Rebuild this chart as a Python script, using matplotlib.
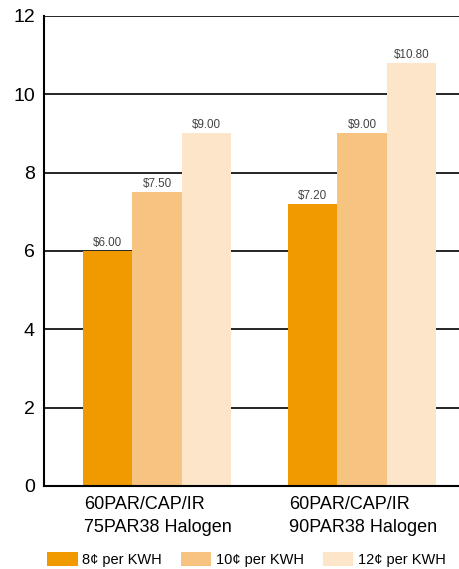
import numpy as np
import matplotlib.pyplot as plt
from matplotlib.patches import Patch

plt.rcParams['font.family'] = ['Liberation Sans', 'DejaVu Sans']

# lamp comparisons on the x axis
lamps = ["60PAR/CAP/IR\n75PAR38 Halogen", "60PAR/CAP/IR\n90PAR38 Halogen"]
rates = ["8¢ per KWH", "10¢ per KWH", "12¢ per KWH"]
# yearly savings per rate, one list per rate
savings_8c = [6.00, 7.20]
savings_10c = [7.50, 9.00]
savings_12c = [9.00, 10.80]
y_ticks = [0, 2, 4, 6, 8, 10, 12]

colors = ["#F09A00", "#F6C380", "#FCE5C8"]


def plot_savings():
    fig = plt.figure(figsize=(4.59, 5.69), dpi=100)
    ax = fig.add_axes([0.0959, 0.1459, 0.9041, 0.826])

    x = np.arange(len(lamps))
    width = 0.24
    series = [savings_8c, savings_10c, savings_12c]

    # gridlines behind the bars
    ax.set_axisbelow(True)
    ax.yaxis.grid(True, color="black", linewidth=1.2)

    for i, values in enumerate(series):
        pos = x + (i - 1) * width
        bars = ax.bar(pos, values, width, color=colors[i], label=rates[i], zorder=2)
        for b, v in zip(bars, values):
            ax.text(b.get_x() + b.get_width() / 2, v + 0.13, f"${v:.2f}",
                    ha="center", va="baseline", fontsize=8.4, color="#444444", zorder=3)

    ax.set_xlim(-0.551, 1.473)
    ax.set_ylim(0, 12)
    ax.set_yticks(y_ticks)
    ax.set_yticklabels([str(t) for t in y_ticks], fontsize=14)
    ax.tick_params(axis="y", length=0, pad=6.5)

    ax.set_xticks(x - 1.5 * width + 0.005)
    ax.set_xticklabels(lamps, ha="left", fontsize=13, linespacing=1.45)
    ax.tick_params(axis="x", length=0, pad=7.5)

    for side in ["top", "right"]:
        ax.spines[side].set_visible(False)
    for side in ["left", "bottom"]:
        ax.spines[side].set_linewidth(1.5)
        ax.spines[side].set_color("black")
        ax.spines[side].set_zorder(4)

    handles = [Patch(facecolor=c, edgecolor="none") for c in colors]
    fig.legend(handles, rates, loc="center left", bbox_to_anchor=(0.1024, 0.0167),
               ncol=3, frameon=False, fontsize=10.5, handlelength=2.1, handleheight=1.16,
               handletextpad=0.3, columnspacing=1.3, borderaxespad=0, borderpad=0)

    fig.savefig("out.png", dpi=100)


if __name__ == '__main__':
    plot_savings()
